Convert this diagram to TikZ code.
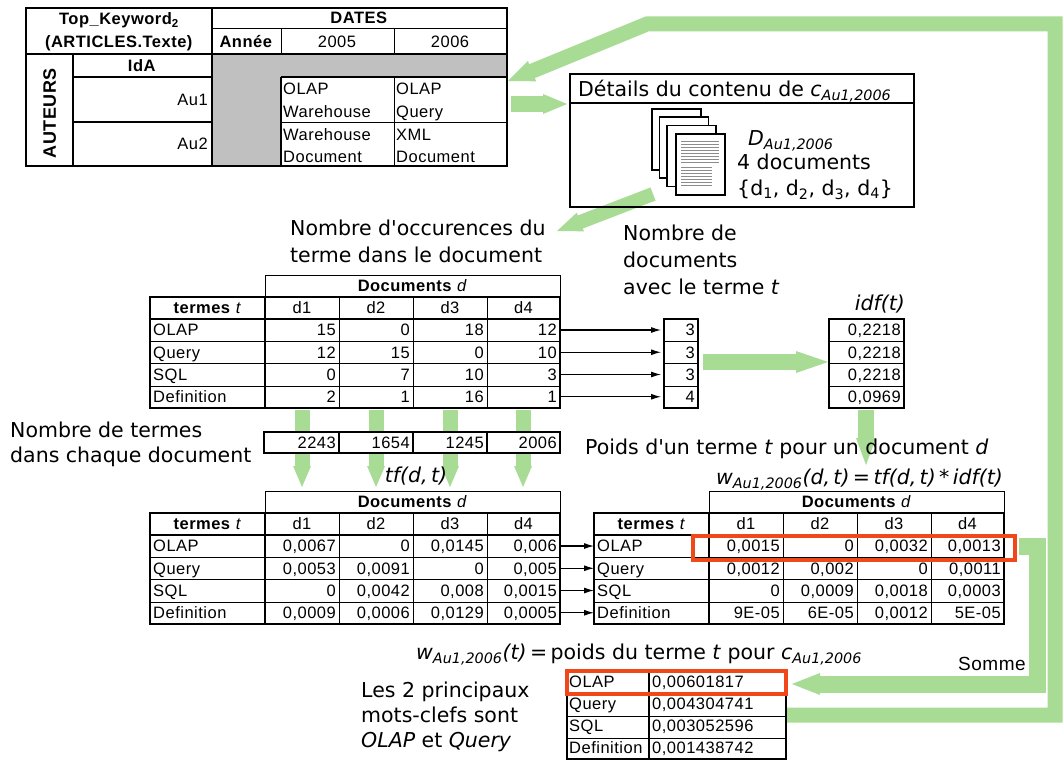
\documentclass[tikz,border=0pt]{standalone}
\usepackage{fontspec}
\usetikzlibrary{calc,arrows.meta}
\newfontfamily\tabfont[LetterSpace=3]{Liberation Sans}
\newfontfamily\labfont{DejaVu Sans}
\definecolor{grn}{RGB}{168,220,148}
\definecolor{redc}{RGB}{240,72,24}
\definecolor{cellgray}{RGB}{192,192,192}
% block arrow: #1 shaft width, #2 head length, #3 head half width, #4 path up to previous point, #5 previous point, #6 tip
\newcommand\garrow[6]{%
  \path ($(#6)!#2pt!(#5)$) coordinate (hb);
  \draw[draw=grn, line width=#1pt] #4 -- ($(hb)!1pt!(#6)$);
  \fill[grn] ($(hb)!#3pt!90:(#6)$) -- (#6) -- ($(hb)!#3pt!-90:(#6)$) -- cycle;
}
\newcommand\tfgrid[4]{%
 \begin{scope}[shift={(#2,#3)}]
  \draw[gl] (115,0) rectangle (410,22);
  \node[tab] (#1-h) at (262.5,11) {\textbf{Documents} \textit{d}};
  \foreach \yy in {66,88.5,111} \draw[gl] (0,\yy) -- (410,\yy);
  \foreach \xx in {189,263,337} \draw[gl] (\xx,22) -- (\xx,133);
  \draw[gk] (115,22) -- (115,133);
  \draw[gk] (0,44) -- (410,44);
  \draw[gk] (0,22) rectangle (410,133);
  \node[tab] (#1-t0) at (57.5,33) {\textbf{termes} \textit{t}};
  \foreach \dn/\xx [count=\j] in {d1/152,d2/226,d3/300,d4/373.5}
    \node[tab] (#1-t\j) at (\xx,33) {\dn};
  \foreach \lab/\va/\vb/\vc/\vd [count=\i] in {#4} {
    \pgfmathsetmacro\yc{55+22.25*(\i-1)}
    \node[lft] (#1-\i-0) at (3,\yc) {\lab};
    \node[num] (#1-\i-1) at (186,\yc) {\va};
    \node[num] (#1-\i-2) at (260,\yc) {\vb};
    \node[num] (#1-\i-3) at (334,\yc) {\vc};
    \node[num] (#1-\i-4) at (407,\yc) {\vd};
    \coordinate (#1-l\i) at (0,\yc);
    \coordinate (#1-r\i) at (410,\yc);
  }
 \end{scope}}
\begin{document}
\begin{tikzpicture}[x=1pt,y=-1pt,
  gl/.style={line width=1pt},
  gk/.style={line width=1.9pt},
  tab/.style={font=\tabfont\fontsize{16.5}{19}\selectfont, inner sep=0pt, text height=11.8pt, text depth=0pt},
  num/.style={tab, anchor=east},
  lft/.style={tab, anchor=west},
  lab/.style={font=\labfont\fontsize{20.5}{24}\selectfont, inner sep=0pt, text height=15pt, text depth=0pt, anchor=west},
  blk/.style={-{Latex[length=10pt,width=6pt]}, line width=1.1pt},
  redbox/.style={draw=redc, line width=4pt},
]
\fill[white] (0,0) rectangle (1064,760);
\useasboundingbox (0,0) rectangle (1064,760);

% ---------------- green block arrows (behind everything) ----------------
\coordinate (lp1) at (786,715);
\coordinate (lp2) at (1055,715);
\coordinate (lp3) at (1055,24);
\coordinate (lp4) at (647,24);
\coordinate (lpt) at (508,81);
\garrow{15}{26}{11}{(lp1) -- (lp2) -- (lp3) -- (lp4)}{lp4}{lpt}

\coordinate (g2s) at (511,104);
\coordinate (g2t) at (567,104);
\garrow{16}{24}{10}{(g2s)}{g2s}{g2t}

\coordinate (g3s) at (653,194);
\coordinate (g3t) at (557,231);
\garrow{14}{25}{10}{(g3s)}{g3s}{g3t}

\coordinate (g4s) at (703,362);
\coordinate (g4t) at (828,362);
\garrow{16}{32}{11}{(g4s)}{g4s}{g4t}

\coordinate (g5s) at (866,410);
\coordinate (g5t) at (866,465);
\garrow{16}{27}{10}{(g5s)}{g5s}{g5t}

\foreach \xx [count=\j] in {302,376,450,523} {
  \coordinate (gds\j) at (\xx,410);
  \coordinate (gdt\j) at (\xx,487);
  \garrow{15}{21}{9}{(gds\j)}{gds\j}{gdt\j}
}

\coordinate (sp1) at (1019,546);
\coordinate (sp2) at (1037,546);
\coordinate (sp3) at (1037,684);
\coordinate (spt) at (792,684);
\garrow{17}{28}{11}{(sp1) -- (sp2) -- (sp3)}{sp3}{spt}

% ---------------- top table ----------------
\fill[cellgray] (212,54) rectangle (507,77);
\fill[cellgray] (212,77) rectangle (281,166);
\draw[gl] (212,29) -- (507,29);
\draw[gl] (281,29) -- (281,54);
\draw[gl] (394,29) -- (394,54);
\draw[gk] (73,77) -- (212,77);
\draw[gk] (73,122) -- (212,122);
\draw[gl] (281,122) -- (507,122);
\draw[gl] (394,77) -- (394,166);
\draw[gk] (26,54) -- (507,54);
\draw[gk] (212,8) -- (212,166);
\draw[gk] (73,54) -- (73,166);
\draw[gk] (281,77) -- (507,77);
\draw[gk] (281,77) -- (281,166);
\draw[gk] (26,8) rectangle (507,166);

\node[tab] (tk) at (119,19) {\textbf{Top\_Keyword\textsubscript{2}}};
\node[tab] (art) at (119,42) {\textbf{(ARTICLES.Texte)}};
\node[tab] (dates) at (359,18) {\textbf{DATES}};
\node[tab] (annee) at (246,42) {\textbf{Année}};
\node[tab] (y2005) at (337,42) {2005};
\node[tab] (y2006) at (450,42) {2006};
\node[tab] (ida) at (142,66) {\textbf{IdA}};
\node[num] (au1) at (208,100) {Au1};
\node[num] (au2) at (208,144) {Au2};
\node[tab, rotate=90, font=\tabfont\fontsize{18}{20}\selectfont] (aut) at (50,113) {\textbf{AUTEURS}};
\node[lft] (c11a) at (283,89) {OLAP};
\node[lft] (c11b) at (283,112) {Warehouse};
\node[lft] (c12a) at (396,89) {OLAP};
\node[lft] (c12b) at (396,112) {Query};
\node[lft] (c21a) at (283,135) {Warehouse};
\node[lft] (c21b) at (283,157) {Document};
\node[lft] (c22a) at (396,135) {XML};
\node[lft] (c22b) at (396,157) {Document};

% ---------------- details box ----------------
\draw[line width=1.3pt] (570,207) -- (570,74) -- (914,74) -- (914,207);
\draw[line width=2.4pt] (569,207) -- (915,207);
\draw[line width=1.3pt] (570,103) -- (914,103);
\node[lab] (det) at (578,89) {Détails du contenu de {\itshape c\textsubscript{Au1,2006}}};
\foreach \dx/\dy in {0/0, 7.5/8, 15/16.5, 24/25}
  \filldraw[fill=white, draw=black, line width=1.6pt] (652+\dx,109+\dy) rectangle ++(49,61);
\foreach \yy in {141,144,...,162}
  \draw[black!45, line width=0.7pt] (681,\yy) -- (719,\yy);
\foreach \yy in {167,170,...,185}
  \draw[black!45, line width=0.7pt] (681,\yy) -- (712,\yy);
\node[lab] (dau) at (748,138) {{\itshape D\textsubscript{Au1,2006}}};
\node[lab] (n4) at (737,162) {4 documents};
\node[lab] (dset) at (737,188) {\{d\textsubscript{1}, d\textsubscript{2}, d\textsubscript{3}, d\textsubscript{4}\}};

% ---------------- labels ----------------
\node[lab] (occ1) at (290,228) {Nombre d'occurences du};
\node[lab] (occ2) at (290,255) {terme dans le document};
\node[lab] (nd1) at (623,233) {Nombre de};
\node[lab] (nd2) at (623,260) {documents};
\node[lab] (nd3) at (623,287) {avec le terme \textit{t}};
\node[lab, anchor=east] (idfl) at (905,303) {\itshape idf(t)};
\node[lab] (nt1) at (10,430) {Nombre de termes};
\node[lab] (nt2) at (10,455) {dans chaque document};
\node[lab, anchor=center] (tfl) at (416,475) {\itshape tf(d,\,t)};
\node[lab] (poids) at (585,447) {Poids d'un terme \textit{t} pour un document \textit{d}};
\node[lab, anchor=east] (form) at (1003,477) {{\itshape w\textsubscript{Au1,2006}(d,\,t)}\,=\,{\itshape tf(d,\,t)}\,*\,{\itshape idf(t)}};
\node[lab] (wt) at (416,652) {{\itshape w\textsubscript{Au1,2006}(t)}\,=\,poids du terme \textit{t} pour {\itshape c\textsubscript{Au1,2006}}};
\node[lab] (les1) at (361,690) {Les 2 principaux};
\node[lab] (les2) at (361,715) {mots-clefs sont};
\node[lab] (les3) at (361,740) {\textit{OLAP} et \textit{Query}};
\node[tab, anchor=east, font=\tabfont\fontsize{19}{21}\selectfont] (somme) at (1026,665) {Somme};

% ---------------- occurrence table ----------------
\tfgrid{M}{150}{275}{OLAP/15/0/18/12, Query/12/15/0/10, SQL/0/7/10/3, Definition/2/1/16/1}

% count box and idf box
\foreach \yy in {341,363.5,386} {
  \draw[gl] (664,\yy) -- (698,\yy);
  \draw[gl] (829,\yy) -- (904,\yy);
}
\draw[gk] (664,319) rectangle (698,408);
\draw[gk] (829,319) rectangle (904,408);
\foreach \v/\w [count=\i] in {3/{0,2218}, 3/{0,2218}, 3/{0,2218}, 4/{0,0969}} {
  \pgfmathsetmacro\yc{330+22.25*(\i-1)}
  \node[num] (C\i) at (695,\yc) {\v};
  \node[num] (I\i) at (901,\yc) {\w};
  \coordinate (C-l\i) at (664,\yc);
  \draw[blk, shorten >=3pt] (M-r\i) -- (C-l\i);
}

% ---------------- number of terms row ----------------
\filldraw[fill=white, draw=black, line width=1.9pt] (264,432) rectangle (560,453);
\foreach \xx in {339,413,487} \draw[gk] (\xx,432) -- (\xx,453);
\node[num] (n1) at (336,443) {2243};
\node[num] (n2) at (410,443) {1654};
\node[num] (n3) at (484,443) {1245};
\node[num] (n4c) at (557,443) {2006};

% ---------------- tf and weight tables ----------------
\tfgrid{T}{150}{491}{OLAP/{0,0067}/0/{0,0145}/{0,006}, Query/{0,0053}/{0,0091}/0/{0,005}, SQL/0/{0,0042}/{0,008}/{0,0015}, Definition/{0,0009}/{0,0006}/{0,0129}/{0,0005}}
\tfgrid{W}{594}{491}{OLAP/{0,0015}/0/{0,0032}/{0,0013}, Query/{0,0012}/{0,002}/0/{0,0011}, SQL/0/{0,0009}/{0,0018}/{0,0003}, Definition/9E-05/6E-05/{0,0012}/5E-05}
\foreach \i in {1,2,3,4} \draw[blk] (T-r\i) -- (W-l\i);
\draw[redbox] (693,536) rectangle (1015,560);

% ---------------- final table ----------------
\foreach \yy in {716,738} \draw[gl] (567,\yy) -- (786,\yy);
\draw[gk] (567,694) -- (786,694);
\draw[gk] (649,671) -- (649,759);
\draw[gk] (567,671) rectangle (786,759);
\foreach \lab/\v [count=\i] in {OLAP/{0,00601817}, Query/{0,004304741}, SQL/{0,003052596}, Definition/{0,001438742}} {
  \pgfmathsetmacro\yc{682+22*(\i-1)}
  \node[lft] (F\i a) at (569,\yc) {\lab};
  \node[lft] (F\i b) at (652,\yc) {\v};
}
\draw[redbox] (567,671) rectangle (786,694);
\end{tikzpicture}
\end{document}
